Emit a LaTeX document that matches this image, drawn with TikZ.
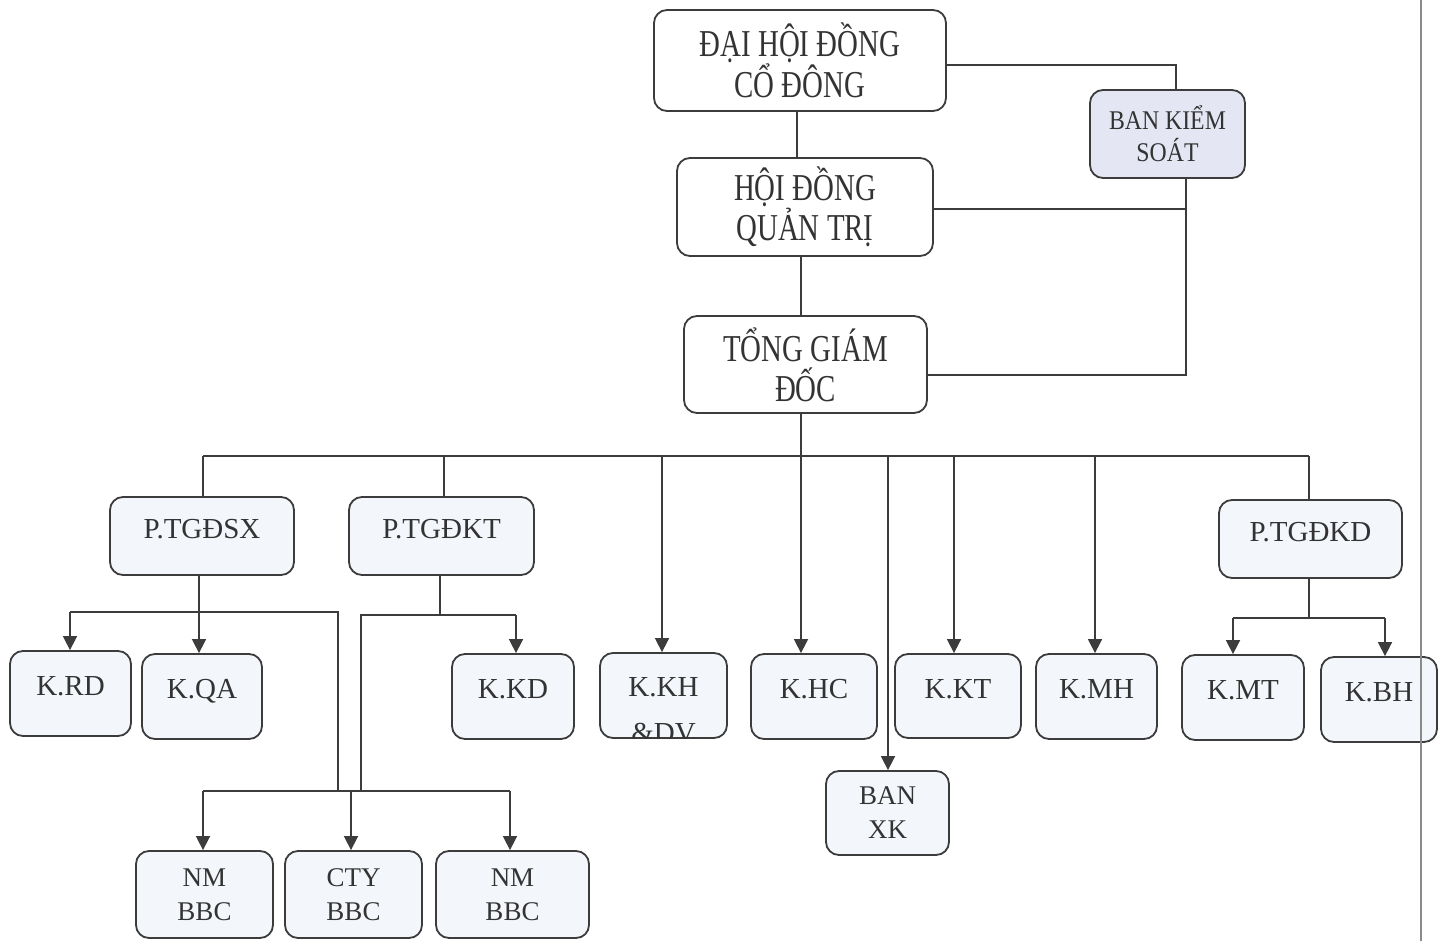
\documentclass[tikz,border=0pt]{standalone}
\usepackage{fontspec}
\setmainfont{Liberation Serif}
\newfontfamily\topfont[FakeStretch=0.76]{Liberation Serif}
\newfontfamily\bksfont[FakeStretch=0.88]{Liberation Serif}
\usetikzlibrary{arrows.meta}
\definecolor{lc}{HTML}{3C3C3C}
\definecolor{tc}{HTML}{333333}
\definecolor{bksfill}{HTML}{E4E6F4}
\definecolor{kfill}{HTML}{F3F6FA}
\definecolor{edge}{HTML}{8A8A8A}
\begin{document}
\begin{tikzpicture}[x=1pt,y=-1pt,
  box/.style={draw=lc, line width=1.8pt, rounded corners=13pt, text=tc, inner sep=0pt, fill=white},
  topbox/.style={box, font=\topfont\fontsize{38}{40}\selectfont, align=center},
  bksbox/.style={box, fill=bksfill, font=\bksfont\fontsize{27}{32}\selectfont, align=center},
  pbox/.style={box, fill=kfill, font=\fontsize{29}{34}\selectfont, text height=20pt, text depth=16pt},
  kbox/.style={box, fill=kfill, font=\fontsize{29}{34}\selectfont, text height=20pt, text depth=16pt},
  subbox/.style={box, fill=kfill, font=\fontsize{27}{34}\selectfont, align=center},
  ln/.style={draw=lc, line width=1.6pt},
  arr/.style={ln, -{Triangle[width=14pt,length=14pt]}}
]
\useasboundingbox (0,0) rectangle (1438,941);
\fill[white] (0,0) rectangle (1438,941);

% top level
\node[topbox, minimum width=292pt, minimum height=101pt] (dh) at (800,60.5) {ĐẠI HỘI ĐỒNG\\CỔ ĐÔNG};
\node[bksbox, minimum width=155pt, minimum height=88pt] (bks) at (1167.5,134) {BAN KIỂM\\SOÁT};
\node[topbox, minimum width=256pt, minimum height=98pt] (hd) at (805,207) {HỘI ĐỒNG\\QUẢN TRỊ};
\node[topbox, minimum width=243pt, minimum height=97pt] (tgd) at (805.5,364.5) {TỔNG GIÁM\\ĐỐC};

% deputies
\node[pbox, minimum width=184pt, minimum height=78pt] (psx) at (202,536) {P.TGĐSX};
\node[pbox, minimum width=185pt, minimum height=78pt] (pkt) at (441.5,536) {P.TGĐKT};
\node[pbox, minimum width=183pt, minimum height=78pt] (pkd) at (1310.5,539) {P.TGĐKD};

% departments
\node[kbox, minimum width=121pt, minimum height=85pt] (krd) at (70.5,693.5) {K.RD};
\node[kbox, minimum width=120pt, minimum height=85pt] (kqa) at (202,696.5) {K.QA};
\node[kbox, minimum width=122pt, minimum height=85pt] (kkd) at (513,696.5) {K.KD};
\node[kbox, minimum width=127pt, minimum height=85pt] (kkh) at (663.5,695.5) {};
\begin{scope}
  \clip (kkh.south west) rectangle (kkh.north east);
  \node[text=tc, font=\fontsize{29}{46}\selectfont, align=center, inner sep=0pt] (kkhtext) at (663.5,710) {K.KH\\\&DV};
\end{scope}
\node[kbox, minimum width=126pt, minimum height=85pt] (khc) at (814,696.5) {K.HC};
\node[kbox, minimum width=126pt, minimum height=84pt] (kkt) at (958,696) {K.KT};
\node[kbox, minimum width=121pt, minimum height=85pt] (kmh) at (1096.5,696.5) {K.MH};
\node[kbox, minimum width=122pt, minimum height=85pt] (kmt) at (1243,697.5) {K.MT};
\node[kbox, minimum width=116pt, minimum height=85pt] (kbh) at (1379,699.5) {K.BH};
\node[subbox, minimum width=123pt, minimum height=84pt] (banxk) at (887.5,813) {BAN\\XK};

% factories
\node[subbox, minimum width=137pt, minimum height=87pt] (nm1) at (204.5,894.5) {NM\\BBC};
\node[subbox, minimum width=137pt, minimum height=87pt] (cty) at (353.5,894.5) {CTY\\BBC};
\node[subbox, minimum width=153pt, minimum height=87pt] (nm2) at (512.5,894.5) {NM\\BBC};

% top connectors
\draw[ln] (797,0 |- dh.south) -- (797,0 |- hd.north);
\draw[ln] (801,0 |- hd.south) -- (801,0 |- tgd.north);
\draw[ln] (dh.east |- 0,65) -- (1176,65) -- (1176,0 |- bks.north);
\draw[ln] (1186,0 |- bks.south) -- (1186,375) -- (tgd.east |- 0,375);
\draw[ln] (hd.east |- 0,209) -- (1186,209);

% bus
\coordinate (bus) at (801,456);
\draw[ln] (801,0 |- tgd.south) -- (bus);
\draw[ln] (203,456) -- (1309,456);
\draw[ln] (203,456) -- (203,0 |- psx.north);
\draw[ln] (444,456) -- (444,0 |- pkt.north);
\draw[ln] (1309,456) -- (1309,0 |- pkd.north);
\draw[arr] (662,456) -- (662,0 |- kkh.north);
\draw[arr] (bus) -- (801,0 |- khc.north);
\draw[arr] (888,456) -- (888,0 |- banxk.north);
\draw[arr] (954,456) -- (954,0 |- kkt.north);
\draw[arr] (1095,456) -- (1095,0 |- kmh.north);

% P.TGDSX
\draw[arr] (199,0 |- psx.south) -- (199,0 |- kqa.north);
\draw[ln] (70,612) -- (338,612) -- (338,791);
\draw[arr] (70,612) -- (70,0 |- krd.north);

% P.TGDKT
\draw[ln] (440,0 |- pkt.south) -- (440,615);
\draw[ln] (361,791) -- (361,615) -- (516,615);
\draw[arr] (516,615) -- (516,0 |- kkd.north);

% factories bus
\draw[ln] (203,791) -- (510,791);
\draw[arr] (203,791) -- (203,0 |- nm1.north);
\draw[arr] (351,791) -- (351,0 |- cty.north);
\draw[arr] (510,791) -- (510,0 |- nm2.north);

% P.TGDKD
\draw[ln] (1309,0 |- pkd.south) -- (1309,618);
\draw[ln] (1233,618) -- (1385,618);
\draw[arr] (1233,618) -- (1233,0 |- kmt.north);
\draw[arr] (1385,618) -- (1385,0 |- kbh.north);

% page edge line
\draw[draw=edge, line width=1.6pt] (1421,0) -- (1421,941);
\end{tikzpicture}
\end{document}
